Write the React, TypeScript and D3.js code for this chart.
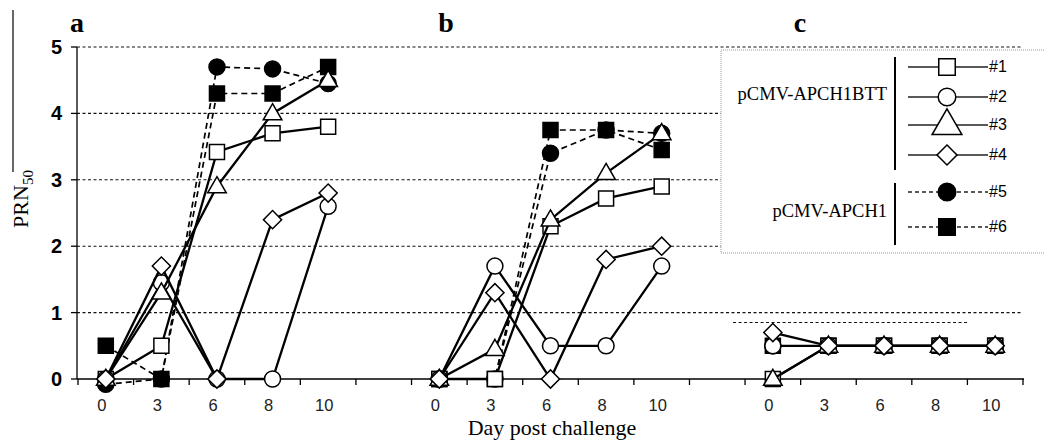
import React from "react";
import * as d3 from "d3";

// ---------- data ----------
const panels = ["a", "b", "c"];
const days = ["0", "3", "6", "8", "10"];
const yTicks = [0, 1, 2, 3, 4, 5];
const gridValues = [1, 2, 3, 4, 5];
const seriesNames = ["#1", "#2", "#3", "#4", "#5", "#6"];
const groupNames = ["pCMV-APCH1BTT", "pCMV-APCH1"];
// values per panel [a, b, c], per day [0,3,6,8,10]
const s1 = [[0, 0.5, 3.42, 3.7, 3.8], [0, 0, 2.3, 2.72, 2.9], [0, 0.5, 0.5, 0.5, 0.5]];
const s2 = [[0, 1.45, 0, 0, 2.6], [0, 1.7, 0.5, 0.5, 1.7], [0.5, 0.5, 0.5, 0.5, 0.5]];
const s3 = [[0, 1.3, 2.9, 4.0, 4.5], [0, 0.45, 2.4, 3.1, 3.7], [0, 0.5, 0.5, 0.5, 0.5]];
const s4 = [[0, 1.7, 0, 2.4, 2.8], [0, 1.3, 0, 1.8, 2.0], [0.7, 0.5, 0.5, 0.5, 0.5]];
const s5 = [[-0.08, 0, 4.7, 4.67, 4.45], [0, 0, 3.4, 3.75, 3.7], [0.5, 0.5, 0.5, 0.5, 0.5]];
const s6 = [[0.5, 0, 4.3, 4.3, 4.7], [0, 0, 3.75, 3.75, 3.45], [0.5, 0.5, 0.5, 0.5, 0.5]];
const thresholdC = 0.85;

const seriesValues = [s1, s2, s3, s4, s5, s6];
const shapes = ["square", "circle", "triangle", "diamond", "circle", "square"];
const filled = [false, false, false, false, true, true];
const dashed = [false, false, false, false, true, true];
const drawOrder = [4, 5, 0, 1, 2, 3];

const SERIF = "'Liberation Serif', 'Times New Roman', serif";
const SANS = "'Liberation Sans', Arial, sans-serif";

function symbolPath(shape: string, scale = 1) {
  if (shape === "square") return d3.symbol(d3.symbolSquare, 225 * scale * scale)()!;
  if (shape === "circle") return d3.symbol(d3.symbolCircle, Math.PI * 64 * scale * scale)()!;
  if (shape === "triangle") return d3.symbol(d3.symbolTriangle, 150 * scale * scale)()!;
  return d3.symbol(d3.symbolSquare, 165 * scale * scale)()!;
}

function Marker({ shape, fill, x, y, scale = 1 }: any) {
  const rot = shape === "diamond" ? " rotate(45)" : "";
  const dy = shape === "triangle" ? 1 : 0;
  return (
    <path
      d={symbolPath(shape, scale)}
      transform={`translate(${x},${y + dy})${rot}`}
      fill={fill ? "#000" : "#fff"}
      stroke="#000"
      strokeWidth={1.5}
    />
  );
}

export default function App() {
  const W = 1045, H = 443;
  const cats: string[] = panels.flatMap((p, pi) => [
    ...days.map((d) => `${p}-${d}`),
    ...(pi < panels.length - 1 ? [`gap${pi}`] : []),
  ]);
  const x = d3.scaleBand<string>().domain(cats).range([78, 1023]).padding(0);
  const bw = x.bandwidth();
  const y = d3.scaleLinear().domain([0, 5]).range([379, 47]);
  const cx = (p: string, d: string) => (x(`${p}-${d}`) as number) + bw / 2;
  const xLeft = 77, xRight = 1022;
  const boundaries = [...cats.map((c) => x(c) as number), x.range()[1]];

  const line = d3
    .line<[number, number]>()
    .x((d) => d[0])
    .y((d) => d[1]);

  const legendX = 721, legendY = 50, legendW = 330, legendH = 203;
  const legendRowY = [67, 97, 125, 155, 192, 227];
  const legendMarkerX = 947;
  const groupLineY = [[57, 170], [183, 245]];
  const groupTextY = [100, 217];

  return (
    <svg width={W} height={H} style={{ position: "absolute", left: 0, top: 0, background: "#fff" }}>
      <rect x={0} y={0} width={W} height={H} fill="#fff" />
      {/* left artifact line */}
      <line x1={13} x2={13} y1={10} y2={172} stroke="#000" strokeWidth={1.2} />

      {/* gridlines */}
      {gridValues.map((v) => (
        <line key={v} x1={xLeft} x2={xRight} y1={y(v)} y2={y(v)} stroke="#111" strokeWidth={1.1} strokeDasharray="3,2.5" />
      ))}
      {/* threshold dashed line in panel c */}
      <line
        x1={(x("c-0") as number) - 12}
        x2={(x("c-8") as number) + bw}
        y1={y(thresholdC)}
        y2={y(thresholdC)}
        stroke="#111"
        strokeWidth={1.1}
        strokeDasharray="3,2.5"
      />

      {/* legend box */}
      <rect x={legendX} y={legendY} width={legendW} height={legendH} fill="#fff" stroke="#999" strokeWidth={1} strokeDasharray="1,1" />
      {groupNames.map((g, gi) => (
        <g key={g}>
          <text x={887} y={groupTextY[gi]} textAnchor="end" fontFamily={SERIF} fontSize={18.5} fill="#000">
            {g}
          </text>
          <line x1={895} x2={895} y1={groupLineY[gi][0]} y2={groupLineY[gi][1]} stroke="#000" strokeWidth={2} />
        </g>
      ))}
      {seriesNames.map((n, i) => (
        <g key={n}>
          <line
            x1={908}
            x2={988}
            y1={legendRowY[i]}
            y2={legendRowY[i]}
            stroke="#222"
            strokeWidth={1.3}
            strokeDasharray={dashed[i] ? "4,3" : undefined}
          />
          <Marker shape={shapes[i]} fill={filled[i]} x={legendMarkerX} y={legendRowY[i]} scale={shapes[i] === "triangle" ? 1.6 : 1.1} />
          <text x={989} y={legendRowY[i] + 5} fontFamily={SANS} fontSize={16} fill="#000">
            {n}
          </text>
        </g>
      ))}

      {/* y axis */}
      <line x1={xLeft} x2={xLeft} y1={y(5)} y2={y(0)} stroke="#000" strokeWidth={1.3} />
      {yTicks.map((t) => (
        <g key={t}>
          <line x1={xLeft - 6} x2={xLeft} y1={y(t)} y2={y(t)} stroke="#000" strokeWidth={1.3} />
          <text x={62} y={y(t) + 7} textAnchor="end" fontFamily={SANS} fontWeight="bold" fontSize={20} fill="#000">
            {t}
          </text>
        </g>
      ))}

      {/* x axis */}
      <line x1={xLeft} x2={x.range()[1] + 1} y1={y(0)} y2={y(0)} stroke="#000" strokeWidth={1.3} />
      {boundaries.map((b, i) => (
        <line key={i} x1={b} x2={b} y1={y(0)} y2={y(0) + 6} stroke="#000" strokeWidth={1.3} />
      ))}
      {panels.map((p) =>
        days.map((d) => (
          <text key={`${p}${d}`} x={cx(p, d) - 4} y={411} textAnchor="middle" fontFamily={SANS} fontSize={16.5} fill="#222">
            {d}
          </text>
        ))
      )}

      {/* panel letters */}
      {panels.map((p) => (
        <text
          key={p}
          x={p === "a" ? 77 : p === "b" ? 446 : 800}
          y={32}
          textAnchor="middle"
          fontFamily={SERIF}
          fontWeight="bold"
          fontSize={28}
          fill="#000"
        >
          {p}
        </text>
      ))}

      {/* axis titles */}
      <text x={552} y={435} textAnchor="middle" fontFamily={SERIF} fontSize={22} fill="#000">
        Day post challenge
      </text>
      <text transform="translate(28,199) rotate(-90)" textAnchor="middle" fontFamily={SERIF} fontSize={22} fill="#000">
        PRN
        <tspan fontSize={15} dy={5}>
          50
        </tspan>
      </text>

      {/* series */}
      {drawOrder.map((si) => (
        <g key={si}>
          {panels.map((p, pi) => {
            const pts: [number, number][] = days.map((d, di) => [cx(p, d), y(seriesValues[si][pi][di])]);
            return (
              <g key={p}>
                <path
                  d={line(pts)!}
                  fill="none"
                  stroke="#000"
                  strokeWidth={dashed[si] ? 1.7 : 2.3}
                  strokeDasharray={dashed[si] ? "6,4" : undefined}
                />
                {pts.map((pt, k) => (
                  <Marker key={k} shape={shapes[si]} fill={filled[si]} x={pt[0]} y={pt[1]} />
                ))}
              </g>
            );
          })}
        </g>
      ))}
    </svg>
  );
}
